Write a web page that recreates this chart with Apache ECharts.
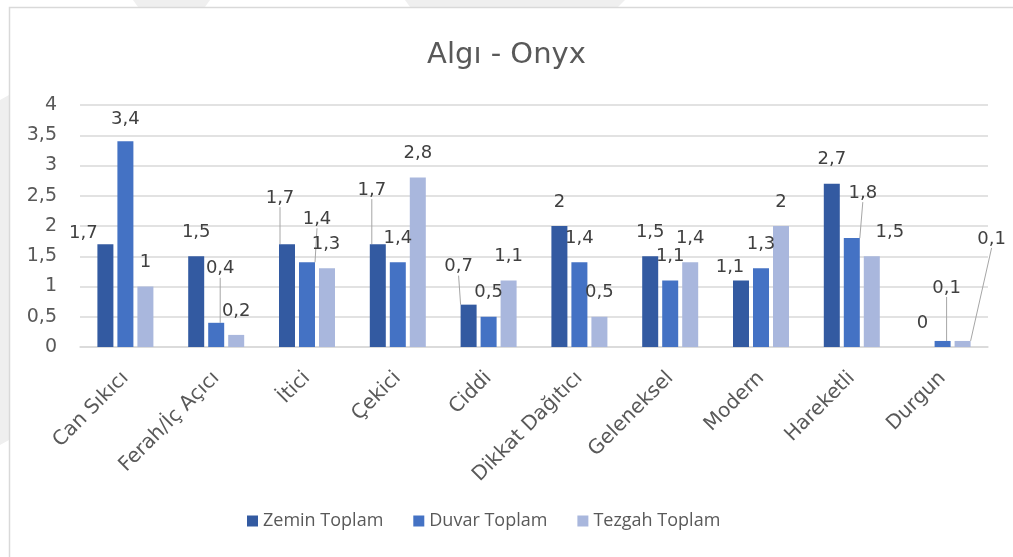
<!DOCTYPE html>
<html>
<head>
<meta charset="utf-8">
<title>Algı - Onyx</title>
<script src="https://cdn.jsdelivr.net/npm/echarts@6/dist/echarts.min.js"></script>
<style>
  html, body { margin: 0; padding: 0; background: #fff; }
  #chart { width: 1013px; height: 557px; }
</style>
</head>
<body>
<div id="chart"></div>
<script>
  // kategoriler ve seriler
  const categories = ['Can Sıkıcı', 'Ferah/İç Açıcı', 'İtici', 'Çekici', 'Ciddi',
    'Dikkat Dağıtıcı', 'Geleneksel', 'Modern', 'Hareketli', 'Durgun'];
  const zeminToplam = [1.7, 1.5, 1.7, 1.7, 0.7, 2, 1.5, 1.1, 2.7, 0];
  const duvarToplam = [3.4, 0.4, 1.4, 1.4, 0.5, 1.4, 1.1, 1.3, 1.8, 0.1];
  const tezgahToplam = [1, 0.2, 1.3, 2.8, 1.1, 0.5, 1.4, 2, 1.5, 0.1];
  const yTicks = [0, 0.5, 1, 1.5, 2, 2.5, 3, 3.5, 4];

  // etiket kaydırmaları (Excel'deki gibi) [dx, dy], leader çizgisi
  const labelShift = [
    [[-22, 13], [0, 0], [-7, -22], [-6, -30], [-10, -14], [0, 0], [0, 0], [-11, 11], [0, 0], [0, 0]],
    [[0, 2], [4, -30], [10, -19], [0, 0], [0, 0], [0, 0], [0, 0], [0, 0], [11, -21], [4, -29]],
    [[0, 0], [0, 0], [-1, 0], [0, 0], [0, 0], [0, 0], [0, 0], [0, 0], [18, 0], [29, -78]]
  ];
  const leaders = [
    [false, false, true, true, true, false, false, false, false, false],
    [false, true, true, false, false, false, false, false, true, true],
    [false, false, false, false, false, false, false, false, false, true]
  ];

  const colors = ['#335AA1', '#4472C4', '#A9B7DD'];
  const fmt = v => String(v).replace('.', ',');
  const font = '"DejaVu Sans", sans-serif';
  const legendFont = '"Open Sans", "Noto Sans", sans-serif';

  function makeSeries(name, values, s) {
    return {
      name: name,
      type: 'bar',
      barWidth: 16,
      barGap: '25%',
      itemStyle: { color: colors[s] },
      data: values.map((v, i) => ({
        value: v,
        labelLine: { show: leaders[s][i], lineStyle: { color: '#a6a6a6', width: 1 } }
      })),
      label: {
        show: true,
        position: 'top',
        distance: 15,
        color: '#404040',
        fontSize: 18,
        fontFamily: font,
        formatter: p => fmt(p.value)
      },
      labelLayout: function (p) {
        const d = labelShift[p.seriesIndex][p.dataIndex];
        return { dx: d[0], dy: d[1] };
      }
    };
  }

  const chart = echarts.init(document.getElementById('chart'));
  chart.setOption({
    animation: false,
    textStyle: { fontFamily: font },
    graphic: [
      { type: 'polygon', silent: true, z: -10,
        shape: { points: [[0, 100], [9, 95], [9, 440], [0, 445]] }, style: { fill: '#efefef' } },
      { type: 'polygon', silent: true, z: -10,
        shape: { points: [[133, 0], [210, 0], [205, 7], [138, 7]] }, style: { fill: '#efefef' } },
      { type: 'polygon', silent: true, z: -10,
        shape: { points: [[405, 0], [625, 0], [618, 7], [410, 7]] }, style: { fill: '#efefef' } },
      { type: 'rect', silent: true, z: -5,
        shape: { x: 9.5, y: 7.5, width: 1100, height: 600 },
        style: { fill: '#fff', stroke: '#d9d9d9', lineWidth: 1.5 } }
    ],
    title: {
      text: 'Algı - Onyx',
      left: 'center',
      top: 36,
      textStyle: { fontSize: 29, fontWeight: 'normal', color: '#595959', fontFamily: font }
    },
    legend: {
      bottom: 22,
      left: 242,
      icon: 'rect',
      itemWidth: 11,
      itemHeight: 11,
      itemGap: 30,
      textStyle: { fontSize: 18, color: '#595959', fontFamily: legendFont },
      data: ['Zemin Toplam', 'Duvar Toplam', 'Tezgah Toplam']
    },
    grid: { left: 80, right: 25, top: 105, bottom: 210 },
    xAxis: {
      type: 'category',
      data: categories,
      axisTick: { show: false },
      axisLine: { lineStyle: { color: '#d9d9d9', width: 1.5 } },
      axisLabel: { rotate: 45, margin: 28, fontSize: 20, color: '#595959', interval: 0 }
    },
    yAxis: {
      type: 'value',
      min: yTicks[0],
      max: yTicks[yTicks.length - 1],
      interval: 0.5,
      axisLine: { show: false },
      axisTick: { show: false },
      splitLine: { lineStyle: { color: '#d9d9d9', width: 1.5 } },
      axisLabel: { margin: 23, fontSize: 19, color: '#595959', formatter: v => fmt(v) }
    },
    series: [
      makeSeries('Zemin Toplam', zeminToplam, 0),
      makeSeries('Duvar Toplam', duvarToplam, 1),
      makeSeries('Tezgah Toplam', tezgahToplam, 2)
    ]
  });
</script>
</body>
</html>
